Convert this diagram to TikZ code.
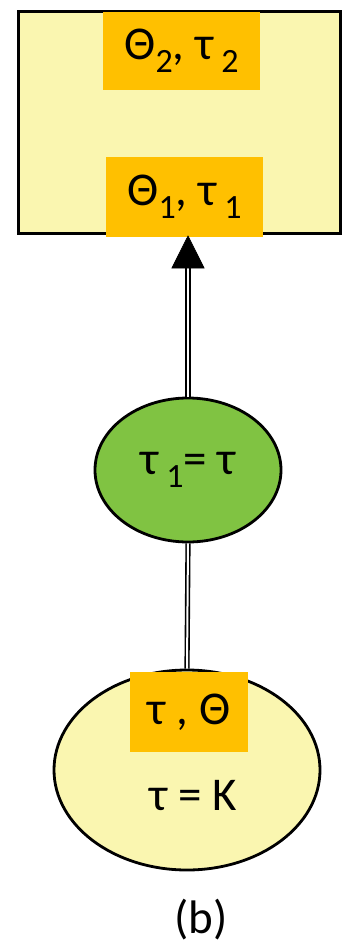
\documentclass[tikz,border=0pt]{standalone}
\usepackage{fontspec}
\setmainfont{Carlito}
\usetikzlibrary{arrows.meta,shapes.geometric}
\definecolor{lyellow}{HTML}{FAF6B0}
\definecolor{orangelbl}{HTML}{FFC000}
\definecolor{greenfill}{HTML}{80C342}
\newcommand{\lowsub}[1]{\raisebox{-13pt}{\fontsize{34}{34}\selectfont #1}}
\begin{document}
\begin{tikzpicture}[x=1pt,y=-1pt,
  every node/.style={font=\fontsize{47}{50}\selectfont, inner sep=0pt},
  outerbox/.style={draw=black, line width=3.5pt, fill=lyellow, minimum width=322pt, minimum height=222pt},
  lbl/.style={fill=orangelbl, minimum width=157pt, minimum height=80pt},
  greenell/.style={ellipse, draw=black, line width=2.8pt, fill=greenfill, minimum width=186pt, minimum height=144pt},
  yellowell/.style={ellipse, draw=black, line width=2.8pt, fill=lyellow, minimum width=266pt, minimum height=200pt},
  dbl/.style={draw=black, double=white, double distance=2pt, line width=1.6pt},
  tip/.style={-{Triangle[length=33pt,width=33pt]}, line width=0.5pt, draw=black}
]
\useasboundingbox (0,0) rectangle (349,948);
\node[outerbox] (box) at (179.5,122.5) {};
\node[lbl, minimum height=78pt] (top) at (181.5,51) {Θ\lowsub{2}, τ\,\lowsub{2}};
\node[lbl] (bl) at (184.5,197) {Θ\lowsub{1}, τ\,\lowsub{1}};
\node[greenell] (g) at (188,470) {τ\,\lowsub{1}= τ};
\node[yellowell] (e) at (187,770) {};
\node[lbl, minimum width=118pt] (te) at (189,712) {τ , Θ};
\node (k) at (193,795) {τ = K};
\node (cap) at (201,920) {(b)};
\coordinate (tipend) at (g.north |- box.south);
\draw[dbl, shorten >=30pt] (g.north) -- (tipend);
\draw[tip] ([yshift=-32pt]tipend) -- (tipend);
\draw[dbl] (g.south) -- (e.north);
\end{tikzpicture}
\end{document}
